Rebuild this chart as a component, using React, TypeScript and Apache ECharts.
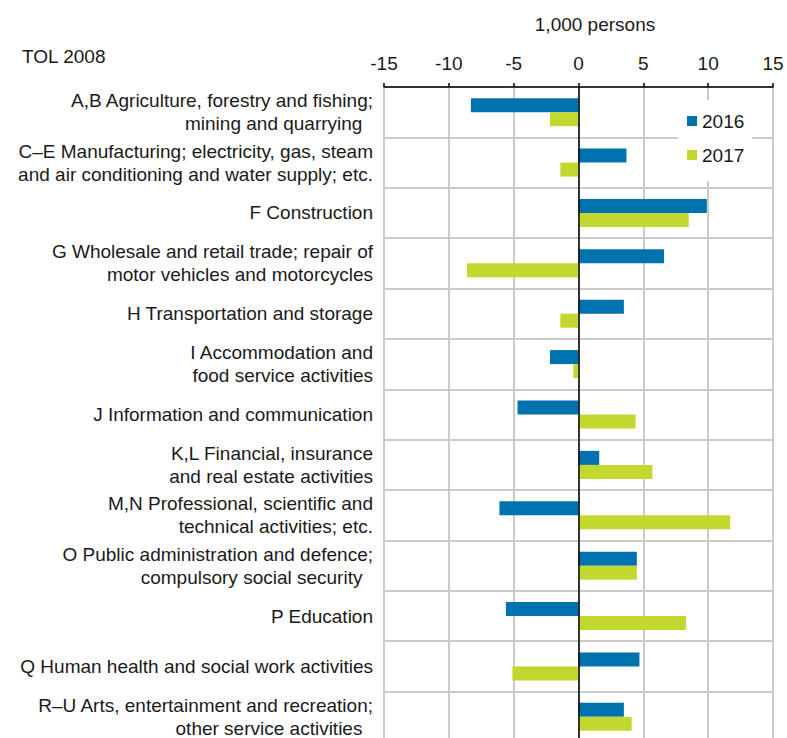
import React, { useEffect, useRef } from "react";
import * as echarts from "echarts";

const categories: string[] = [
  "A,B Agriculture, forestry and fishing;\nmining and quarrying\u00a0\u00a0",
  "C–E Manufacturing; electricity, gas, steam\nand air conditioning and water supply; etc.",
  "F Construction",
  "G Wholesale and retail trade; repair of\nmotor vehicles and motorcycles",
  "H Transportation and storage",
  "I Accommodation and\nfood service activities",
  "J Information and communication",
  "K,L Financial, insurance\nand real estate activities",
  "M,N Professional, scientific and\ntechnical activities; etc.",
  "O Public administration and defence;\ncompulsory social security\u00a0\u00a0",
  "P Education",
  "Q Human health and social work activities",
  "R–U Arts, entertainment and recreation;\nother service activities\u00a0\u00a0",
];

const values2016: number[] = [-8.3, 3.7, 9.9, 6.6, 3.5, -2.2, -4.7, 1.6, -6.1, 4.5, -5.6, 4.7, 3.5];
const values2017: number[] = [-2.2, -1.4, 8.5, -8.6, -1.4, -0.4, 4.4, 5.7, 11.7, 4.5, 8.3, -5.1, 4.1];

const seriesNames: string[] = ["2016", "2017"];
const xTicks = { min: -15, max: 15, interval: 5 };

const FONT = "'Liberation Sans', Arial, sans-serif";
const TEXT_COLOR = "#1a1a1a";
const FS = 19;
const GRID_COLOR = "#cbcbcb";

export default function App() {
  const ref = useRef<HTMLDivElement>(null);

  useEffect(() => {
    if (!ref.current) return;
    const chart = echarts.init(ref.current, undefined, { renderer: "svg" });
    chart.setOption({
      animation: false,
      backgroundColor: "#ffffff",
      textStyle: { fontFamily: FONT, color: TEXT_COLOR },
      grid: { left: 384, right: 14, top: 87, bottom: 8, containLabel: false },
      graphic: [
        {
          type: "text",
          x: 22,
          y: 56,
          style: {
            text: "TOL 2008",
            font: `${FS}px ${FONT}`,
            fill: TEXT_COLOR,
            textVerticalAlign: "middle",
          },
        },
        {
          type: "text",
          x: 595,
          y: 24,
          style: {
            text: "1,000 persons",
            font: `${FS}px ${FONT}`,
            fill: TEXT_COLOR,
            textAlign: "center",
            textVerticalAlign: "middle",
          },
        },
      ],
      legend: {
        data: seriesNames,
        orient: "vertical",
        left: 678,
        top: 100,
        padding: [11, 8, 16, 9],
        backgroundColor: "#ffffff",
        itemWidth: 10,
        itemHeight: 10,
        itemGap: 14,
        icon: "rect",
        textStyle: { fontSize: FS, fontFamily: FONT, color: TEXT_COLOR, lineHeight: 20 },
      },
      xAxis: {
        type: "value",
        position: "top",
        min: xTicks.min,
        max: xTicks.max,
        interval: xTicks.interval,
        axisLine: { show: true, onZero: false, lineStyle: { color: "#000", width: 1.5 } },
        axisTick: { show: true, inside: false, length: 4, lineStyle: { color: "#000", width: 1.5 } },
        axisLabel: { fontSize: FS, fontFamily: FONT, color: TEXT_COLOR, margin: 14 },
        splitLine: { show: true, lineStyle: { color: GRID_COLOR, width: 2 } },
      },
      yAxis: {
        type: "category",
        data: categories,
        inverse: true,
        axisLine: { show: false, onZero: false },
        axisTick: { show: false },
        axisLabel: {
          fontSize: FS,
          fontFamily: FONT,
          color: TEXT_COLOR,
          margin: 11,
          align: "right",
          lineHeight: 23,
        },
        splitLine: { show: true, lineStyle: { color: GRID_COLOR, width: 2 } },
      },
      series: [
        {
          name: seriesNames[0],
          type: "bar",
          data: values2016,
          barWidth: 14,
          barGap: "0%",
          itemStyle: { color: "#0072b0" },
          markLine: {
            silent: true,
            symbol: "none",
            label: { show: false },
            lineStyle: { color: "#000", width: 1.5, type: "solid" },
            data: [{ xAxis: 0 }],
            z: 10,
          },
          z: 3,
        },
        {
          name: seriesNames[1],
          type: "bar",
          data: values2017,
          barWidth: 14,
          barGap: "0%",
          itemStyle: { color: "#c3d82f" },
          z: 3,
        },
      ],
    });
    return () => chart.dispose();
  }, []);

  return (
    <div
      style={{
        position: "absolute",
        left: 0,
        top: 0,
        width: 787,
        height: 738,
        overflow: "hidden",
      }}
    >
      <div ref={ref} style={{ width: 787, height: 750 }} />
    </div>
  );
}
